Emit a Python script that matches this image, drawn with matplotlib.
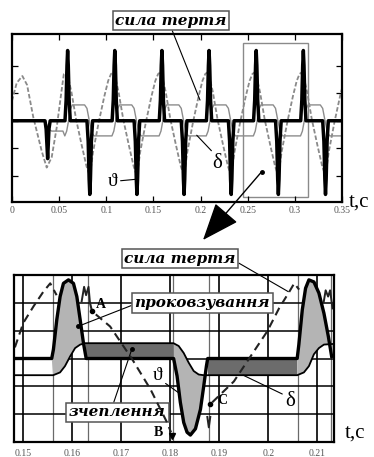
import matplotlib
matplotlib.use("Agg")
import matplotlib.pyplot as plt
from matplotlib.patches import Rectangle, ConnectionPatch

FIG_W, FIG_H = 374, 457
SERIF = ["Liberation Serif", "DejaVu Serif"]
BOX_FONT = ["DejaVu Serif"]
plt.rcParams["font.family"] = SERIF

# ---------------- top panel: whole run 0 .. 0.35 s ----------------
TOP_TICKS = [0, 0.05, 0.1, 0.15, 0.2, 0.25, 0.3, 0.35]
TOP_TICK_LABELS = ["0", "0.05", "0.1", "0.15", "0.2", "0.25", "0.3", "0.35"]
TOP_YTICKS = [-0.8, -0.4, 0, 0.4, 0.8]

# first (transient) cycle, read point by point
FRIC_START_T = [0.0, 0.0350, 0.0362, 0.0378, 0.0392, 0.0405]
FRIC_START_V = [0.0, 0.0, -0.12, -0.55, -0.12, 0.0]
DELTA_START_T = [0.0, 0.0350, 0.0390, 0.0420, 0.0540]
DELTA_START_V = [0.0, 0.0, -0.12, -0.15, -0.15]
DASH_START_T = [0.0, 0.005, 0.011, 0.016, 0.0226, 0.0315, 0.0368, 0.0421, 0.0474, 0.0527]
DASH_START_V = [0.29, 0.55, 0.65, 0.52, 0.05, -0.44, -0.68, -0.53, -0.10, 0.45]

# steady cycles: one shape per positive friction spike
SPIKE_TIMES = [0.059, 0.109, 0.159, 0.209, 0.259, 0.309]
FRIC_SHAPE_DT = [-0.0028, -0.0016, -0.0007, 0.0, 0.0007, 0.0016, 0.0028,
                 0.0205, 0.0218, 0.0228, 0.0235, 0.0242, 0.0252, 0.0265]
FRIC_SHAPE_V = [0, 0.30, 0.80, 1.02, 0.80, 0.30, 0,
                0, -0.30, -0.85, -1.07, -0.85, -0.30, 0]
DELTA_SHAPE_DT = [-0.003, -0.001, 0.001, 0.003, 0.005, 0.018, 0.0205, 0.023, 0.0255, 0.028, 0.046]
DELTA_SHAPE_V = [-0.22, -0.15, 0.0, 0.17, 0.23, 0.23, 0.18, 0.0, -0.17, -0.22, -0.22]
DASH_SHAPE_DT = [-0.004, -0.002, 0.001, 0.004, 0.009, 0.015, 0.020, 0.0235, 0.027, 0.033, 0.039, 0.043]
DASH_SHAPE_V = [0.68, 0.70, 0.60, 0.42, 0.02, -0.36, -0.66, -0.80, -0.45, -0.02, 0.36, 0.58]

# ---------------- bottom panel: one cycle, 0.148 .. 0.213 s ----------------
ZOOM_TICKS = [0.15, 0.16, 0.17, 0.18, 0.19, 0.20, 0.21]
ZOOM_TICK_LABELS = ["0.15", "0.16", "0.17", "0.18", "0.19", "0.2", "0.21"]
ZOOM_EVENTS = [0.1562, 0.1632, 0.1807, 0.1879, 0.2061, 0.2127]
ZOOM_LEVELS = [-0.8, -0.4, 0.0, 0.4, 0.8]

FRIC_ZOOM_T = [0.1482, 0.1559, 0.15625, 0.15694, 0.15761, 0.15829, 0.15931, 0.16033,
               0.16102, 0.16169, 0.16237, 0.16292, 0.18073, 0.18143, 0.1821, 0.18279,
               0.18347, 0.18415, 0.18518, 0.1862, 0.18686, 0.18741, 0.18767, 0.2059,
               0.20624, 0.20694, 0.20761, 0.20829, 0.20931, 0.21033, 0.21135, 0.21224, 0.21292]
FRIC_ZOOM_V = [0, 0, 0.13, 0.56, 0.89, 1.08, 1.13, 1.08,
               0.89, 0.56, 0.22, 0, 0, -0.25, -0.63, -0.92,
               -1.06, -1.10, -1.01, -0.73, -0.40, -0.11, 0, 0,
               0.20, 0.70, 1.01, 1.13, 1.10, 0.94, 0.65, 0.32, 0.03]
DELTA_ZOOM_T = [0.1482, 0.1562, 0.1576, 0.1586, 0.15965, 0.16067, 0.1617, 0.1627,
                0.1807, 0.18176, 0.18278, 0.1838, 0.18482, 0.18584, 0.18686, 0.1877,
                0.2059, 0.20727, 0.20829, 0.2093, 0.21033, 0.21135, 0.2134]
DELTA_ZOOM_V = [-0.24, -0.24, -0.20, -0.11, 0.03, 0.15, 0.20, 0.22,
                0.22, 0.18, 0.08, -0.06, -0.18, -0.23, -0.24, -0.24,
                -0.24, -0.20, -0.11, 0.06, 0.15, 0.20, 0.21]
SLIP_SPANS = [(0.1559, 0.16292), (0.1807, 0.18767), (0.2059, 0.2134)]
STICK_SPANS = [(0.1627, 0.18073), (0.18767, 0.2059)]

DASH_RISE1_T = [0.1484, 0.1501, 0.1522, 0.1542, 0.1556, 0.1569]
DASH_RISE1_V = [0.16, 0.51, 0.75, 0.96, 1.08, 0.91]
DASH_FALL_T = [0.1637, 0.1641, 0.1678, 0.1722, 0.1760, 0.1794, 0.1802]
DASH_FALL_V = [0.80, 0.68, 0.46, 0.0, -0.44, -0.92, -1.06]
DASH_RISE2_T = [0.1886, 0.1930, 0.1964, 0.1998, 0.2022, 0.2043, 0.2053, 0.2063]
DASH_RISE2_V = [-0.63, -0.33, 0.03, 0.39, 0.72, 0.96, 1.08, 0.99]
WIGGLE_A_T = [0.1620, 0.1625, 0.1629, 0.1634, 0.1637]
WIGGLE_A_V = [0.82, 1.03, 0.91, 1.03, 0.80]
WIGGLE_B_T = [0.1876, 0.1879, 0.1882]
WIGGLE_B_V = [-0.84, -0.99, -0.84]
WIGGLE_C_T = [0.2113, 0.2117, 0.2122, 0.2126, 0.2131]
WIGGLE_C_V = [0.81, 0.98, 0.89, 0.98, 0.72]

POINT_A = (0.1641, 0.68)
POINT_B = (0.1804, -1.12)
POINT_C = (0.1882, -0.66)


def fig_xy(x, y):
    # picture pixels (origin top-left) -> figure fraction
    return x / FIG_W, 1 - y / FIG_H


def repeat_shape(starts, dts, values):
    t, v = [], []
    for s in starts:
        t += [s + d for d in dts]
        v += list(values)
    return t, v


def label_box(ax, text, xy, text_px, relpos, size=11):
    ax.annotate(text, xy=xy, xycoords="data",
                xytext=fig_xy(*text_px), textcoords="figure fraction",
                ha="center", va="center", fontsize=size, family=BOX_FONT,
                fontweight="bold", fontstyle="italic",
                bbox=dict(boxstyle="square,pad=0.18", fc="white", ec="#555555", lw=1.1),
                arrowprops=dict(arrowstyle="-", lw=0.8, color="black",
                                relpos=relpos, shrinkA=0, shrinkB=0))


def top_panel(fig):
    ax = fig.add_axes([12 / FIG_W, 1 - 202 / FIG_H, 330 / FIG_W, 168 / FIG_H])

    fric_t, fric_v = repeat_shape(SPIKE_TIMES, FRIC_SHAPE_DT, FRIC_SHAPE_V)
    delta_t, delta_v = repeat_shape(SPIKE_TIMES, DELTA_SHAPE_DT, DELTA_SHAPE_V)
    dash_t, dash_v = repeat_shape(SPIKE_TIMES, DASH_SHAPE_DT, DASH_SHAPE_V)

    ax.plot(DASH_START_T + dash_t, DASH_START_V + dash_v,
            color="#8a8a8a", lw=1.3, ls=(0, (2.5, 1.2)))
    ax.plot(DELTA_START_T + delta_t, DELTA_START_V + delta_v, color="#8c8c8c", lw=1.0)
    ax.plot(FRIC_START_T + fric_t + [0.35], FRIC_START_V + fric_v + [0],
            color="black", lw=2.5)

    ax.set_xlim(0, 0.35)
    ax.set_ylim(-1.18, 1.26)
    ax.set_xticks(TOP_TICKS)
    ax.set_xticklabels(TOP_TICK_LABELS)
    ax.set_yticks(TOP_YTICKS)
    ax.set_yticklabels([])
    ax.tick_params(direction="in", length=4, width=0.9, top=True, right=True,
                   labelsize=7, labelcolor="#555555", pad=3)
    for sp in ax.spines.values():
        sp.set_linewidth(1.6)

    # zoom window and its arrow to the lower panel
    ax.add_patch(Rectangle((0.2447, -1.105), 0.3143 - 0.2447, 1.126 + 1.105,
                           fill=False, ec="#8a8a8a", lw=1.0))
    ax.plot([0.2648], [-0.74], "o", color="black", ms=2.5)
    fig.add_artist(ConnectionPatch(xyA=(0.2648, -0.74), coordsA=ax.transData,
                                   xyB=fig_xy(203, 240), coordsB="figure fraction",
                                   arrowstyle="-|>,head_length=1.4,head_width=0.55",
                                   mutation_scale=17, lw=1.0, color="black",
                                   shrinkA=0, shrinkB=0))

    label_box(ax, "сила тертя", (0.1994, 0.30), (171, 20.5), (0.5, 0.0))
    ax.annotate("ϑ", xy=(0.1315, -0.85), xytext=fig_xy(113, 181),
                textcoords="figure fraction", fontsize=14, ha="center", va="center",
                arrowprops=dict(arrowstyle="-", lw=0.8, relpos=(1, 0.5),
                                shrinkA=0, shrinkB=0))
    ax.annotate("δ", xy=(0.1959, -0.21), xytext=fig_xy(217, 163),
                textcoords="figure fraction", fontsize=15, ha="center", va="center",
                arrowprops=dict(arrowstyle="-", lw=0.8, relpos=(0.2, 1),
                                shrinkA=0, shrinkB=0))
    fig.text(*fig_xy(359, 202), "t,c", fontsize=15, ha="center", va="center")


def polygon(span):
    a, b = span
    top = [(t, v) for t, v in zip(FRIC_ZOOM_T, FRIC_ZOOM_V) if a <= t <= b]
    low = [(t, v) for t, v in zip(DELTA_ZOOM_T, DELTA_ZOOM_V) if a <= t <= b]
    pts = top + low[::-1]
    return [p[0] for p in pts], [p[1] for p in pts]


def bottom_panel(fig):
    ax = fig.add_axes([14 / FIG_W, 1 - 442 / FIG_H, 320 / FIG_W, 167 / FIG_H])

    for t in ZOOM_TICKS:
        ax.axvline(t, color="black", lw=1.2, zorder=1)
    for t in ZOOM_EVENTS:
        ax.axvline(t, color="#6a6a6a", lw=0.9, zorder=1)
    for lv in ZOOM_LEVELS:
        ax.axhline(lv, color="black", lw=1.1, zorder=1)

    for span in SLIP_SPANS:
        ax.fill(*polygon(span), color="#b4b4b4", lw=0, zorder=2)
    for span in STICK_SPANS:
        ax.fill(*polygon(span), color="#6c6c6c", lw=0, zorder=2)

    ax.plot(DELTA_ZOOM_T, DELTA_ZOOM_V, color="black", lw=1.3, zorder=3)
    ax.plot(FRIC_ZOOM_T, FRIC_ZOOM_V, color="black", lw=2.4, zorder=4)

    dash = dict(color="#222222", lw=1.5, ls=(0, (4, 2.5)), zorder=5)
    ax.plot(DASH_RISE1_T, DASH_RISE1_V, **dash)
    ax.plot(DASH_FALL_T, DASH_FALL_V, **dash)
    ax.plot(DASH_RISE2_T, DASH_RISE2_V, **dash)
    for wt, wv in [(WIGGLE_A_T, WIGGLE_A_V), (WIGGLE_B_T, WIGGLE_B_V), (WIGGLE_C_T, WIGGLE_C_V)]:
        ax.plot(wt, wv, color="#222222", lw=1.4, zorder=5)

    ax.plot(*POINT_A, "o", color="black", ms=3, zorder=6)
    ax.plot(*POINT_B, "v", color="black", ms=5, zorder=6)
    ax.plot(*POINT_C, "o", color="black", ms=3, zorder=6)
    bold = dict(fontsize=10, fontweight="bold", ha="center", va="center")
    fig.text(*fig_xy(101, 305), "A", **bold)
    fig.text(*fig_xy(158, 433), "B", **bold)
    fig.text(*fig_xy(222, 401), "C", **bold)

    ax.set_xlim(0.14822, 0.2134)
    ax.set_ylim(-1.2, 1.2)
    ax.set_xticks(ZOOM_TICKS)
    ax.set_xticklabels(ZOOM_TICK_LABELS)
    ax.set_yticks([])
    ax.tick_params(axis="x", length=0, labelsize=7, labelcolor="#555555", pad=5)
    for sp in ax.spines.values():
        sp.set_linewidth(1.6)
        sp.set_zorder(7)

    label_box(ax, "сила тертя", (0.2041, 0.96), (180, 258.5), (1.0, 0.3))
    label_box(ax, "проковзування", (0.1612, 0.46), (202, 303), (0.0, 0.4))
    label_box(ax, "зчеплення", (0.1722, 0.13), (117.5, 412.5), (0.45, 1.0))
    ax.plot([0.1612], [0.46], "o", color="black", ms=2.5, zorder=6)
    ax.plot([0.1722], [0.13], "o", color="black", ms=2.5, zorder=6)

    ax.annotate("ϑ", xy=(0.1819, -0.50), xytext=fig_xy(158, 375),
                textcoords="figure fraction", fontsize=14, ha="center", va="center",
                arrowprops=dict(arrowstyle="-", lw=0.8, relpos=(0.8, 0.2),
                                shrinkA=0, shrinkB=0))
    ax.annotate("δ", xy=(0.1949, -0.24), xytext=fig_xy(290, 402),
                textcoords="figure fraction", fontsize=15, ha="center", va="center",
                arrowprops=dict(arrowstyle="-", lw=0.8, relpos=(0.2, 0.8),
                                shrinkA=0, shrinkB=0))
    fig.text(*fig_xy(355, 433), "t,c", fontsize=15, ha="center", va="center")


def main():
    fig = plt.figure(figsize=(FIG_W / 100, FIG_H / 100), dpi=100)
    top_panel(fig)
    bottom_panel(fig)
    fig.savefig("out.png", dpi=100)


if __name__ == "__main__":
    main()
